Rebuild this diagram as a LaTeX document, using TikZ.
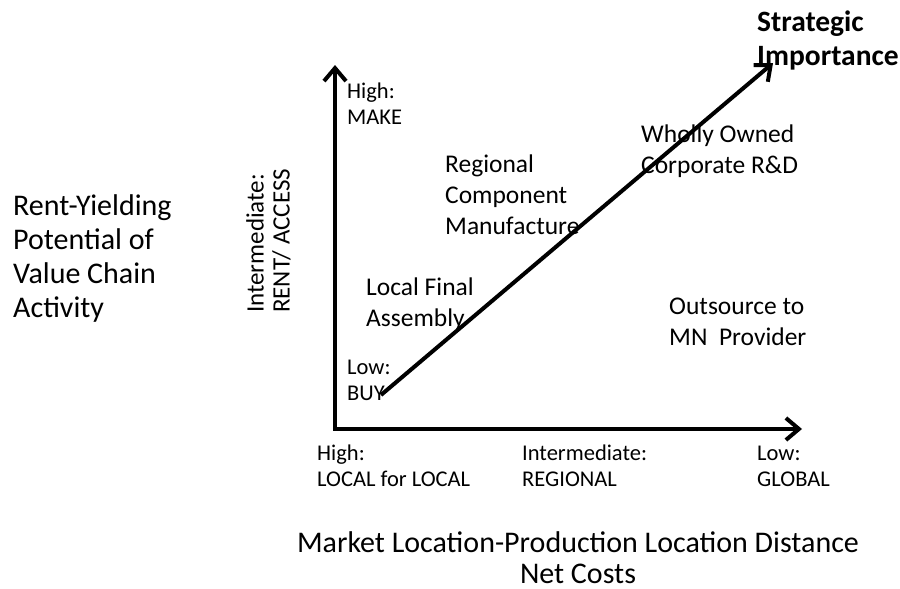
\documentclass[tikz,border=0pt]{standalone}
\usepackage{fontspec}
\setmainfont{Carlito}
\usetikzlibrary{arrows.meta}
\usetikzlibrary{positioning}

\tikzset{
  axisline/.style={line width=4pt, line join=miter,
    {Straight Barb[length=13pt,width=22pt,line width=4pt]}-{Straight Barb[length=13pt,width=22pt,line width=4pt]}},
  trendline/.style={line width=4pt, -{Straight Barb[length=13pt,width=22pt,line width=4pt]}},
  ticklabel/.style={font=\fontsize{22.5}{26}\selectfont, align=left, inner sep=0pt, anchor=base west},
  arealabel/.style={font=\fontsize{25.5}{31}\selectfont, align=left, inner sep=0pt, anchor=base west},
  titlelabel/.style={font=\fontsize{30}{33}\selectfont, inner sep=0pt},
}

\begin{document}
\begin{tikzpicture}[x=1pt,y=-1pt]
    \useasboundingbox (0,0) rectangle (900,589);

    % axes and the diagonal trend
    \coordinate (origin) at (335,429);
    \coordinate (ytop) at (335,65);
    \coordinate (xend) at (802,429);
    \coordinate (trendStart) at (381,395);
    \coordinate (trendEnd) at (773,63);
    \draw[axisline] (ytop) -- (origin) -- (xend);
    \draw[trendline] (trendStart) -- (trendEnd);

    % vertical axis (anchors sit on the last line)
    \node[ticklabel] (yHigh) at (347,124) {High:\\MAKE};
    \node[ticklabel] (yLow) at (347,400) {Low:\\BUY};
    \node[ticklabel, font=\fontsize{25}{26}\selectfont, rotate=90, anchor=north west] (yMid) at (246,313)
      {Intermediate:\\RENT/ ACCESS};
    \node[titlelabel, align=left, anchor=base west, font=\fontsize{30}{34}\selectfont] (yTitle) at (13,317)
      {Rent-Yielding\\Potential of\\Value Chain\\Activity};

    % horizontal axis
    \node[ticklabel] (xHigh) at (317,486) {High:\\LOCAL for LOCAL};
    \node[ticklabel] (xMid) at (522,486) {Intermediate:\\REGIONAL};
    \node[ticklabel] (xLow) at (757,486) {Low:\\GLOBAL};
    \node[titlelabel, align=center, anchor=base, font=\fontsize{30}{31}\selectfont] (xTitle) at (578,583)
      {Market Location-Production Location Distance\\Net Costs};

    % activities
    \node[arealabel] (assembly) at (366,326) {Local Final\\Assembly};
    \node[arealabel] (regional) at (445,234) {Regional\\Component\\Manufacture};
    \node[arealabel] (rnd) at (641,173) {Wholly Owned\\Corporate R\&D};
    \node[arealabel] (outsource) at (669,345) {Outsource to\\MN~ Provider};
    \node[font=\bfseries\fontsize{29.5}{34}\selectfont, align=left, inner sep=0pt, anchor=base west] (strategic) at (757,65)
      {Strategic\\Importance};
\end{tikzpicture}
\end{document}
